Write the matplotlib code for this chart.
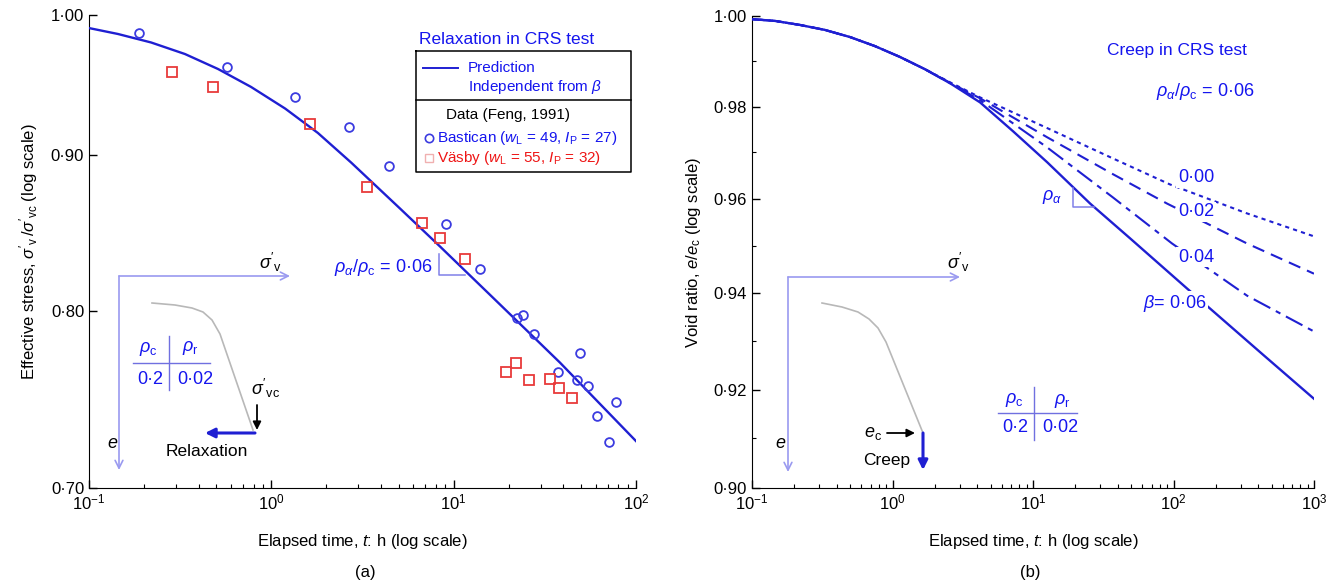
import matplotlib
matplotlib.use("Agg")
import matplotlib.pyplot as plt
from matplotlib.ticker import FixedLocator, FixedFormatter, LogLocator, NullLocator, NullFormatter

plt.rcParams['font.family'] = ['Liberation Sans', 'DejaVu Sans']
plt.rcParams['mathtext.fontset'] = 'custom'
plt.rcParams['mathtext.rm'] = 'Liberation Sans'
plt.rcParams['mathtext.it'] = 'Liberation Sans:italic'
plt.rcParams['mathtext.bf'] = 'Liberation Sans:bold'

# ---------------- data: panel (a) ----------------
pred_t = [0.1, 0.144, 0.219, 0.336, 0.51, 0.774, 1.19, 1.80, 2.74, 5.08, 8.42, 16.4, 38.3, 100]
pred_v = [0.9902, 0.9858, 0.9795, 0.9710, 0.9601, 0.9472, 0.9319, 0.9149, 0.8947, 0.8642, 0.8398, 0.8081, 0.7694, 0.7252]

bastican_t = [0.188, 0.571, 1.349, 2.669, 4.42, 9.08, 13.96, 22.3, 24.0, 27.6, 49.4, 37.4, 47.5, 54.6, 77.8, 61.2, 71.2]
bastican_v = [0.9865, 0.9615, 0.9400, 0.9190, 0.8924, 0.8542, 0.8257, 0.7957, 0.7975, 0.7862, 0.7750, 0.7640, 0.7593, 0.7559, 0.7469, 0.7391, 0.7247]

vasby_t = [0.285, 0.479, 1.631, 3.35, 6.71, 8.42, 11.55, 22.0, 19.4, 25.9, 33.8, 37.8, 44.6]
vasby_v = [0.9579, 0.9471, 0.9211, 0.8784, 0.8548, 0.8452, 0.8319, 0.7692, 0.7640, 0.7593, 0.7599, 0.7548, 0.7491]

# ---------------- data: panel (b) ----------------
b006_t = [0.1, 0.146, 0.22, 0.33, 0.5, 0.75, 1.13, 1.7, 2.57, 4.2, 7.21, 12.6, 25.5, 49, 124.7, 433, 1000]
b006_e = [0.9993, 0.9989, 0.998, 0.9969, 0.9953, 0.9933, 0.9909, 0.9882, 0.9851, 0.9809, 0.9746, 0.9679, 0.9590, 0.9516, 0.9410, 0.9272, 0.9181]

b000_t = [0.1, 0.146, 0.22, 0.33, 0.5, 0.75, 1.13, 1.7, 2.57, 4.2, 12.6, 37.1, 94.4, 333, 1000]
b000_e = [0.9993, 0.9989, 0.998, 0.9969, 0.9953, 0.9933, 0.9909, 0.9882, 0.9853, 0.9820, 0.9753, 0.9687, 0.9631, 0.9569, 0.9520]

b002_t = [0.1, 0.146, 0.22, 0.33, 0.5, 0.75, 1.13, 1.7, 2.57, 4.2, 12.6, 37.1, 89.9, 333, 1000]
b002_e = [0.9993, 0.9989, 0.998, 0.9969, 0.9953, 0.9933, 0.9909, 0.9882, 0.9852, 0.9818, 0.9733, 0.9653, 0.9590, 0.9505, 0.9441]

b004_t = [0.1, 0.146, 0.22, 0.33, 0.5, 0.75, 1.13, 1.7, 2.57, 4.2, 12.6, 37.1, 97.5, 333, 1000]
b004_e = [0.9993, 0.9989, 0.998, 0.9969, 0.9953, 0.9933, 0.9909, 0.9882, 0.9851, 0.9814, 0.9711, 0.9603, 0.9505, 0.9395, 0.9320]

ya_ticks = [0.70, 0.80, 0.90, 1.00]
ya_labels = ['0·70', '0·80', '0·90', '1·00']
yb_ticks = [0.90, 0.92, 0.94, 0.96, 0.98, 1.00]
yb_labels = ['0·90', '0·92', '0·94', '0·96', '0·98', '1·00']
yb_minor = [0.91, 0.93, 0.95, 0.97, 0.99]
xa_ticks = [0.1, 1, 10, 100]
xa_labels = ['$10^{-1}$', '$10^{0}$', '$10^{1}$', '$10^{2}$']
xb_ticks = [0.1, 1, 10, 100, 1000]
xb_labels = ['$10^{-1}$', '$10^{0}$', '$10^{1}$', '$10^{2}$', '$10^{3}$']

W, H = 1330, 587
BLUE = '#1f1fd2'
MBLUE = '#3b3be0'
RED = '#e83a3a'
LBLUE = '#9a9af0'
TXTB = '#1515ee'
FS = 12

fig = plt.figure(figsize=(W / 100, H / 100), dpi=100)


def px_axes(x0, y0, x1, y1):
    return fig.add_axes([x0 / W, 1 - y1 / H, (x1 - x0) / W, (y1 - y0) / H])


axa = px_axes(89, 15, 636, 488)
axb = px_axes(752, 16, 1314, 488)

for ax in (axa, axb):
    ax.set_xscale('log')
    ax.set_yscale('log')
    ax.spines['top'].set_visible(False)
    ax.spines['right'].set_visible(False)
    ax.tick_params(which='both', direction='in', labelsize=FS, top=False, right=False)
    ax.tick_params(which='major', length=6, width=1)
    ax.tick_params(which='minor', length=3, width=0.8)
    ax.set_xlabel('Elapsed time, $t$: h (log scale)', fontsize=FS, labelpad=14)

# panel (a)
axa.plot(pred_t, pred_v, color=BLUE, lw=1.7, zorder=3, solid_joinstyle='round')
axa.plot(bastican_t, bastican_v, ls='none', marker='o', ms=6.3, mfc='none', mec=MBLUE, mew=1.3, zorder=4)
axa.plot(vasby_t, vasby_v, ls='none', marker='s', ms=6.5, mfc='none', mec=RED, mew=1.3, zorder=4)
axa.set_xlim(0.1, 100)
axa.set_ylim(0.70, 1.00)
axa.yaxis.set_major_locator(FixedLocator(ya_ticks))
axa.yaxis.set_major_formatter(FixedFormatter(ya_labels))
axa.yaxis.set_minor_locator(NullLocator())
axa.yaxis.set_minor_formatter(NullFormatter())
axa.xaxis.set_major_locator(FixedLocator(xa_ticks))
axa.xaxis.set_major_formatter(FixedFormatter(xa_labels))
axa.xaxis.set_minor_locator(LogLocator(base=10, subs=range(2, 10)))
axa.xaxis.set_minor_formatter(NullFormatter())
axa.set_ylabel("Effective stress, $\\sigma'_\\mathrm{v}\\,/\\sigma'_\\mathrm{vc}$ (log scale)", fontsize=FS, labelpad=8)

# panel (b)
axb.plot(b006_t, b006_e, color=BLUE, lw=1.7, zorder=3, solid_joinstyle='round')
axb.plot(b004_t, b004_e, color=BLUE, lw=1.5, ls=(0, (9, 3, 2.5, 3)), zorder=3)
axb.plot(b002_t, b002_e, color=BLUE, lw=1.5, ls=(0, (6, 3.5)), zorder=3)
axb.plot(b000_t, b000_e, color=BLUE, lw=1.5, ls=(0, (2, 2)), zorder=3)
axb.set_xlim(0.1, 1000)
axb.set_ylim(0.90, 1.00)
axb.yaxis.set_major_locator(FixedLocator(yb_ticks))
axb.yaxis.set_major_formatter(FixedFormatter(yb_labels))
axb.yaxis.set_minor_locator(FixedLocator(yb_minor))
axb.yaxis.set_minor_formatter(NullFormatter())
axb.xaxis.set_major_locator(FixedLocator(xb_ticks))
axb.xaxis.set_major_formatter(FixedFormatter(xb_labels))
axb.xaxis.set_minor_locator(LogLocator(base=10, subs=range(2, 10)))
axb.xaxis.set_minor_formatter(NullFormatter())
axb.set_ylabel('Void ratio, $e/e_\\mathrm{c}$ (log scale)', fontsize=FS, labelpad=8)

# ---------------- overlay for annotations (pixel coordinates) ----------------
ov = fig.add_axes([0, 0, 1, 1], zorder=10)
ov.set_xlim(0, W)
ov.set_ylim(H, 0)
ov.axis('off')
ov.patch.set_visible(False)

WHITE_BOX = dict(facecolor='white', edgecolor='none', pad=1.0)


def T(x, y, s, **kw):
    kw.setdefault('fontsize', FS)
    kw.setdefault('ha', 'center')
    kw.setdefault('va', 'center')
    ov.text(x, y, s, **kw)


def L(xs, ys, **kw):
    ov.plot(xs, ys, **kw)


def arrow(x0, y0, x1, y1, color, lw=1.2, style='->', ms=14):
    ov.annotate('', xy=(x1, y1), xytext=(x0, y0),
                arrowprops=dict(arrowstyle=style, color=color, lw=lw, mutation_scale=ms,
                                shrinkA=0, shrinkB=0))

# panel labels
T(365, 572, '(a)')
T(1030, 572, '(b)')

# legend in panel (a)
T(507, 40, 'Relaxation in CRS test', color=TXTB, fontsize=12.5)
L([416, 631, 631, 416, 416], [51, 51, 172, 172, 51], color='black', lw=1.1)
L([416, 631], [100, 100], color='black', lw=1.1)
L([423, 458], [68, 68], color=BLUE, lw=1.4)
T(468, 68, 'Prediction', color=TXTB, fontsize=11, ha='left')
T(468, 87, 'Independent from $\\beta$', color=TXTB, fontsize=11, ha='left')
T(446, 115, 'Data (Feng, 1991)', color='black', fontsize=11, ha='left')
ov.plot([429], [138], marker='o', ms=6, mfc='none', mec=MBLUE, mew=1.2)
T(437, 138, 'Bastican ($w_\\mathrm{L}$ = 49, $I_\\mathrm{P}$ = 27)', color=TXTB, fontsize=11, ha='left')
ov.plot([429], [158], marker='s', ms=6, mfc='none', mec='#f0b0b0', mew=1.0)
T(437, 158, 'Väsby ($w_\\mathrm{L}$ = 55, $I_\\mathrm{P}$ = 32)', color='#ee1515', fontsize=11, ha='left')

# slope triangle (a)
L([439, 439, 465], [254, 275, 275], color='#8080e8', lw=1.1)
T(383, 268, '$\\rho_\\alpha/\\rho_\\mathrm{c}$ = 0·06', color=TXTB, fontsize=13)

# inset (a)
arrow(119, 276, 290, 276, LBLUE)
arrow(119, 276, 119, 470, LBLUE)
T(270, 262, "$\\sigma'_\\mathrm{v}$", fontsize=13)
T(113, 443, '$e$', fontsize=13)
L([152, 175, 192, 203, 212, 220, 253], [303, 305, 308, 312, 320, 334, 430], color='#b8b8b8', lw=1.2)
L([133, 210], [363, 363], color='#7070e0', lw=1.0)
L([169, 169], [336, 390], color='#7070e0', lw=1.0)
T(148, 349, '$\\rho_\\mathrm{c}$', color=TXTB, fontsize=13)
T(190, 348, '$\\rho_\\mathrm{r}$', color=TXTB, fontsize=13)
T(150, 379, '0·2', color=TXTB, fontsize=13)
T(195, 379, '0·02', color=TXTB, fontsize=13)
T(265, 388, "$\\sigma'_\\mathrm{vc}$", fontsize=13)
arrow(257, 405, 257, 430, 'black', lw=1.3, style='-|>', ms=12)
arrow(255, 433, 205, 433, BLUE, lw=2.2, style='-|>', ms=14)
T(207, 452, 'Relaxation', fontsize=12.5)

# panel (b) annotations
T(1177, 51, 'Creep in CRS test', color=TXTB, fontsize=12.5)
T(1205, 92, '$\\rho_\\alpha/\\rho_\\mathrm{c}$ = 0·06', color=TXTB, fontsize=13)
T(1196, 178, '0·00', color=TXTB, fontsize=13, bbox=WHITE_BOX)
T(1196, 212, '0·02', color=TXTB, fontsize=13, bbox=WHITE_BOX)
T(1196, 257, '0·04', color=TXTB, fontsize=13, bbox=WHITE_BOX)
T(1175, 303, '$\\beta$= 0·06', color=TXTB, fontsize=13, bbox=WHITE_BOX)
T(1052, 197, '$\\rho_\\alpha$', color=TXTB, fontsize=13)
L([1073, 1073, 1094], [188, 207, 207], color='#8080e8', lw=1.1)

# inset (b)
arrow(788, 277, 960, 277, LBLUE)
arrow(788, 277, 788, 472, LBLUE)
T(958, 262, "$\\sigma'_\\mathrm{v}$", fontsize=13)
T(781, 443, '$e$', fontsize=13)
L([822, 842, 858, 869, 878, 886, 923], [303, 307, 312, 319, 328, 342, 433], color='#b8b8b8', lw=1.2)
T(873, 433, '$e_\\mathrm{c}$', fontsize=13)
arrow(887, 433, 915, 433, 'black', lw=1.3, style='-|>', ms=12)
arrow(923, 433, 923, 470, BLUE, lw=2.2, style='-|>', ms=14)
T(887, 461, 'Creep', fontsize=12.5)
L([998, 1077], [413, 413], color='#7070e0', lw=1.0)
L([1034, 1034], [387, 440], color='#7070e0', lw=1.0)
T(1014, 400, '$\\rho_\\mathrm{c}$', color=TXTB, fontsize=13)
T(1062, 401, '$\\rho_\\mathrm{r}$', color=TXTB, fontsize=13)
T(1015, 428, '0·2', color=TXTB, fontsize=13)
T(1060, 428, '0·02', color=TXTB, fontsize=13)

fig.savefig('out.png', dpi=100)
